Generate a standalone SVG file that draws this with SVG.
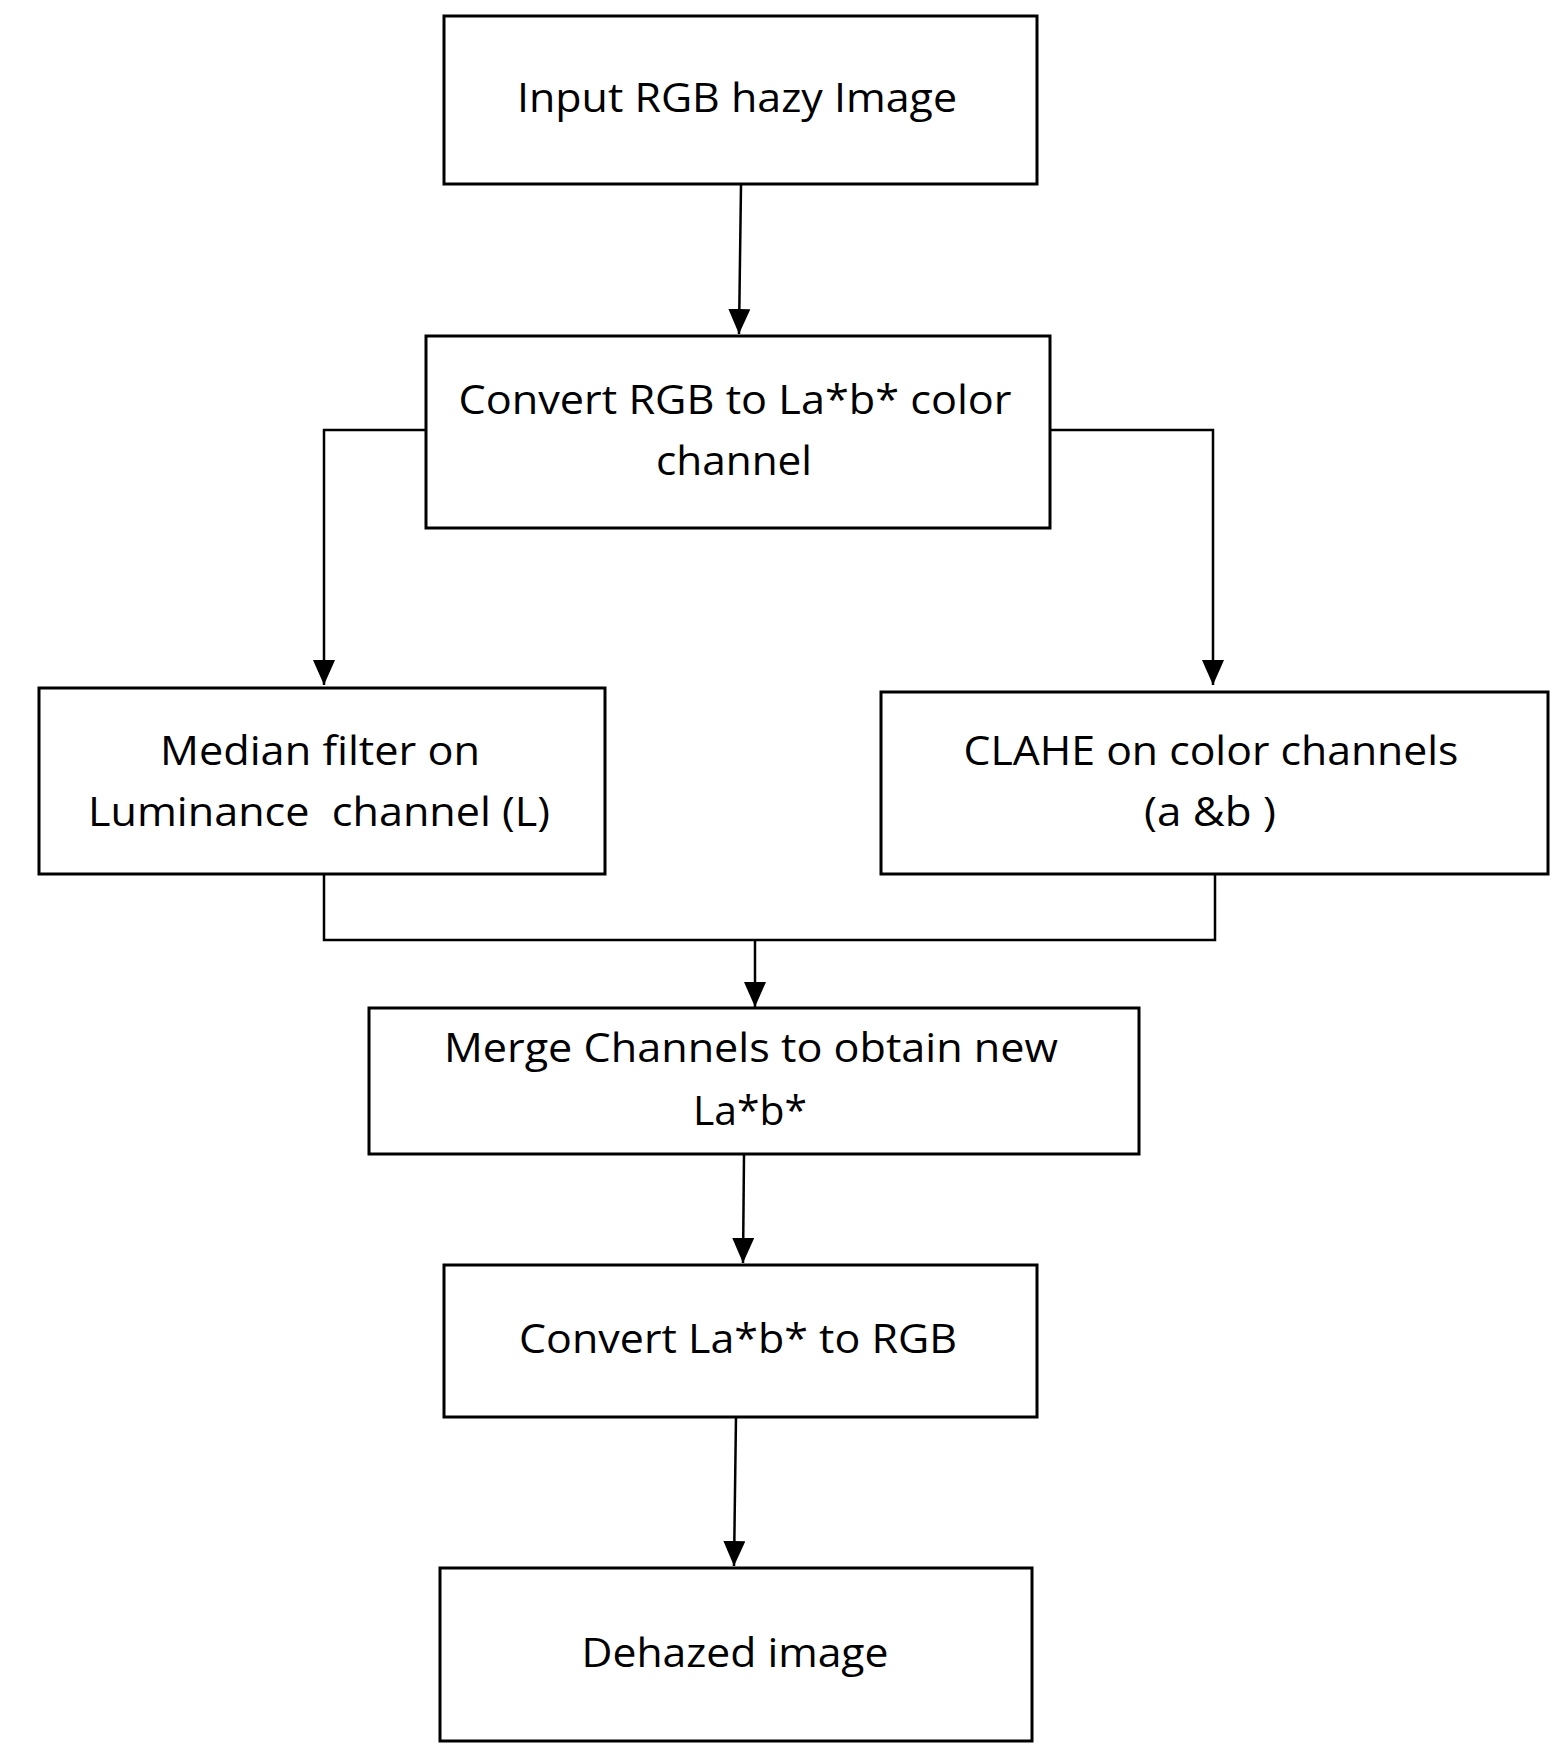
<svg xmlns="http://www.w3.org/2000/svg" width="1560" height="1750" viewBox="0 0 1560 1750">
<style>
.box{fill:#fff;stroke:#000;stroke-width:3}
.lbl{font-family:"Open Sans","Noto Sans","DejaVu Sans",sans-serif;font-size:40px;fill:#000;text-anchor:middle}
.con{fill:none;stroke:#000;stroke-width:2.5}
</style>
<defs>
<marker id="ah" markerUnits="userSpaceOnUse" markerWidth="26" markerHeight="24" refX="25" refY="11" orient="auto">
<path d="M0,0 L25,11 L0,22 z" fill="#000"/>
</marker>
</defs>
<rect width="1560" height="1750" fill="#fff"/>
<g id="connectors">
<line class="con" x1="741" y1="185" x2="739" y2="334" marker-end="url(#ah)"/>
<polyline class="con" points="426,430 324,430 324,685" marker-end="url(#ah)"/>
<polyline class="con" points="1050,430 1213,430 1213,685" marker-end="url(#ah)"/>
<polyline class="con" points="324,874 324,940 1215,940 1215,874"/>
<line class="con" x1="755" y1="940" x2="755" y2="1007" marker-end="url(#ah)"/>
<line class="con" x1="744" y1="1155" x2="743" y2="1263" marker-end="url(#ah)"/>
<line class="con" x1="736" y1="1416" x2="734" y2="1566" marker-end="url(#ah)"/>
</g>
<g id="input">
<rect class="box" x="444" y="16" width="593" height="168"/>
<text class="lbl" x="737" y="112" textLength="440" lengthAdjust="spacingAndGlyphs">Input RGB hazy Image</text>
</g>
<g id="convert1">
<rect class="box" x="426" y="336" width="624" height="192"/>
<text class="lbl" x="735" y="414" textLength="553" lengthAdjust="spacingAndGlyphs">Convert RGB to La*b* color</text>
<text class="lbl" x="734" y="475" textLength="156" lengthAdjust="spacingAndGlyphs">channel</text>
</g>
<g id="median">
<rect class="box" x="39" y="688" width="566" height="186"/>
<text class="lbl" x="320" y="765" textLength="320" lengthAdjust="spacingAndGlyphs">Median filter on</text>
<text class="lbl" x="319" y="826" textLength="462" lengthAdjust="spacingAndGlyphs" xml:space="preserve">Luminance  channel (L)</text>
</g>
<g id="clahe">
<rect class="box" x="881" y="692" width="667" height="182"/>
<text class="lbl" x="1211" y="765" textLength="495" lengthAdjust="spacingAndGlyphs">CLAHE on color channels</text>
<text class="lbl" x="1210" y="826" textLength="132" lengthAdjust="spacingAndGlyphs">(a &amp;b )</text>
</g>
<g id="merge">
<rect class="box" x="369" y="1008" width="770" height="146"/>
<text class="lbl" x="751" y="1062" textLength="614" lengthAdjust="spacingAndGlyphs">Merge Channels to obtain new</text>
<text class="lbl" x="750" y="1125" textLength="114" lengthAdjust="spacingAndGlyphs">La*b*</text>
</g>
<g id="convert2">
<rect class="box" x="444" y="1265" width="593" height="152"/>
<text class="lbl" x="738" y="1353" textLength="438" lengthAdjust="spacingAndGlyphs">Convert La*b* to RGB</text>
</g>
<g id="dehazed">
<rect class="box" x="440" y="1568" width="592" height="173"/>
<text class="lbl" x="735" y="1667" textLength="307" lengthAdjust="spacingAndGlyphs">Dehazed image</text>
</g>
</svg>
